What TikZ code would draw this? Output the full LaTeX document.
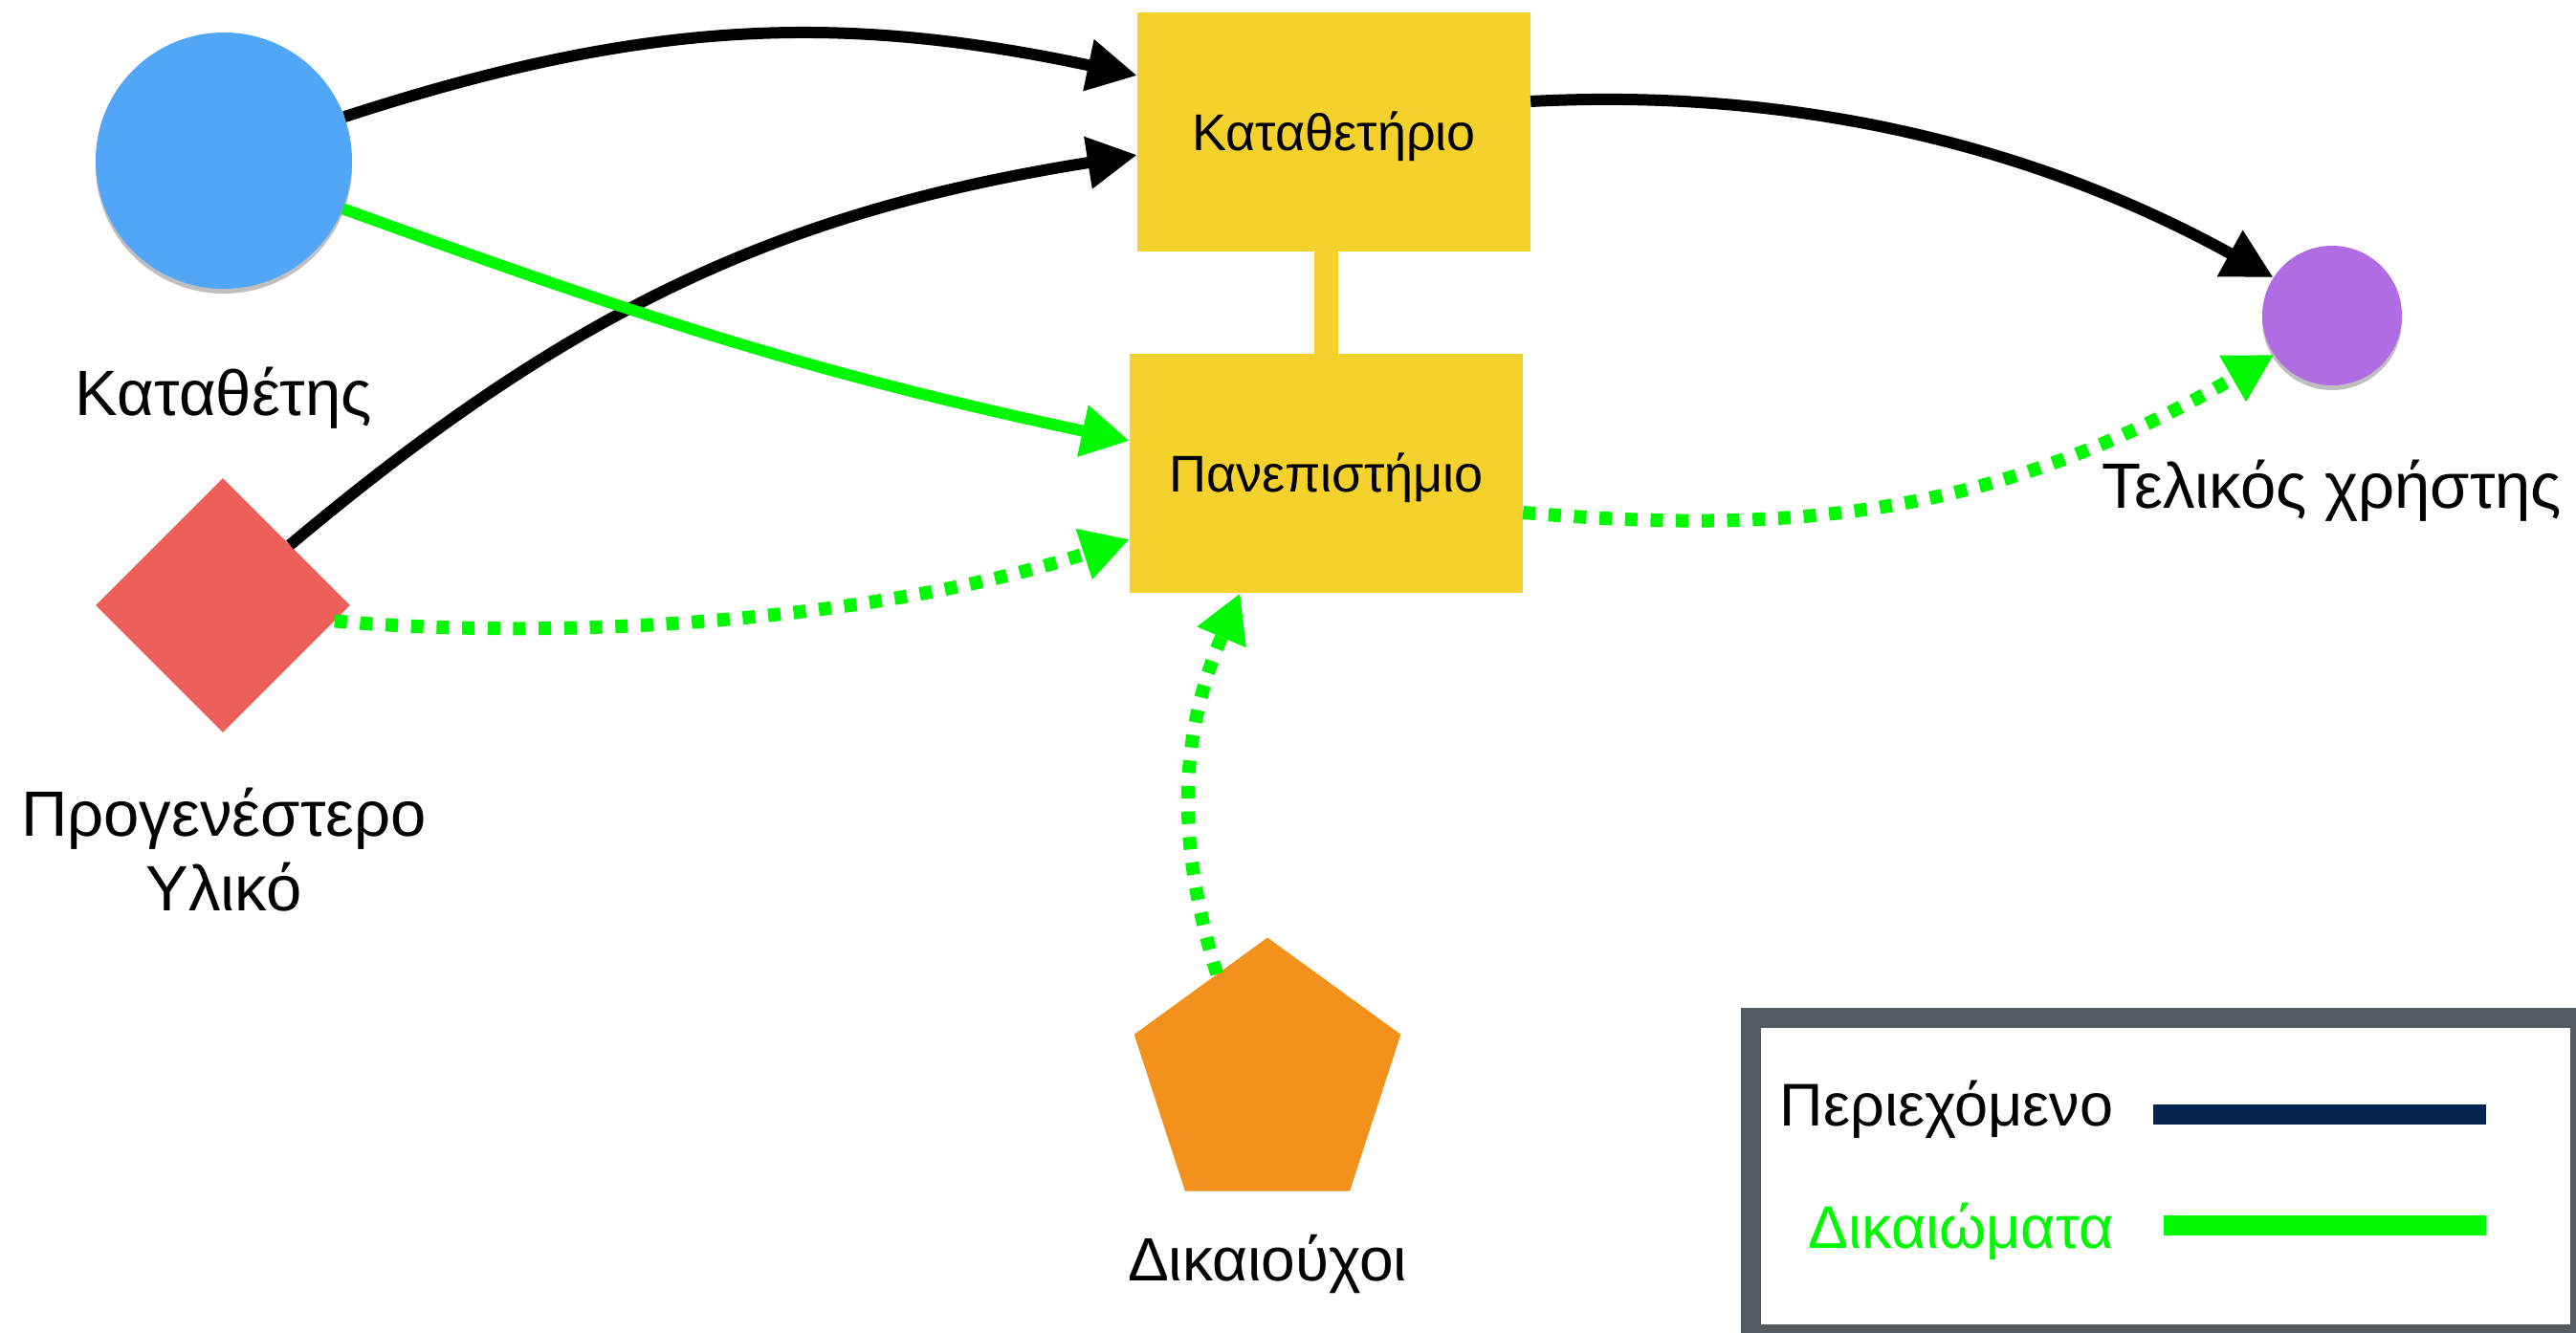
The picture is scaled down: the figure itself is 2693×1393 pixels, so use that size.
\documentclass[tikz,border=0pt]{standalone}
\usepackage{fontspec}
\setmainfont{Liberation Sans}
\usetikzlibrary{arrows.meta,shapes.geometric,shadows}
\definecolor{cblue}{HTML}{52A6F8}
\definecolor{cred}{HTML}{EC5E57}
\definecolor{cyel}{HTML}{F5D22B}
\definecolor{cpurple}{HTML}{B06CE2}
\definecolor{corange}{HTML}{F2921C}
\definecolor{cgreen}{HTML}{00F800}
\definecolor{cnavy}{HTML}{03244F}
\definecolor{cframe}{HTML}{555A61}
\tikzset{
  lbl/.style={inner sep=0pt, font=\fontsize{67}{78}\selectfont},
  boxlbl/.style={rectangle, fill=cyel, inner sep=0pt, minimum width=411pt, minimum height=250pt,
     font=\fontsize{54}{60}\selectfont, text height=38pt, text depth=0pt},
  legtxt/.style={inner sep=0pt, font=\fontsize{63}{70}\selectfont},
  blk/.style={draw=black, line width=12pt, -{Triangle[length=52pt,width=52pt]}},
  grn/.style={draw=cgreen, line width=12pt, -{Triangle[length=50pt,width=52pt]}},
  grndot/.style={draw=cgreen, line width=14pt, dash pattern=on 13pt off 13.7pt, -{Triangle[length=50pt,width=52pt]}},
  shad/.style={drop shadow={shadow xshift=0pt, shadow yshift=-5pt, opacity=0.25, fill=black}}
}
\begin{document}
\begin{tikzpicture}[x=1pt,y=1pt]
\useasboundingbox (0,0) rectangle (2693,-1393);
% shapes
\node[circle, fill=cblue, minimum size=268pt, inner sep=0pt, shad] (dep) at (234,-168) {};
\node[diamond, fill=cred, minimum width=266pt, minimum height=266pt, inner sep=0pt] (old) at (233,-633) {};
\node[boxlbl] (repo) at (1394.5,-138) {Καταθετήριο};
\node[boxlbl] (uni) at (1386.5,-495) {Πανεπιστήμιο};
\node[circle, fill=cpurple, minimum size=146pt, inner sep=0pt, shad] (user) at (2438,-330) {};
\node[regular polygon, regular polygon sides=5, fill=corange, minimum size=293pt, inner sep=0pt] (right) at (1325,-1127) {};
% labels
\node[lbl, anchor=base] (depl) at (234,-434) {Καταθέτης};
\node[lbl, align=center] (oldl) at (234,-889) {Προγενέστερο\\Υλικό};
\node[lbl, anchor=base] (userl) at (2438,-531) {Τελικός χρήστης};
\node[lbl, anchor=base, font=\fontsize{64}{78}\selectfont] (rightl) at (1325,-1339) {Δικαιούχοι};
% link between boxes
\draw[cyel, line width=25pt] (uni.north) -- (uni.north |- repo.south);
% connectors
\draw[blk] (dep.20) to[out=18,in=168] ([yshift=59]repo.west);
\draw[blk] (old.42) to[out=40,in=-171] ([yshift=-24]repo.west);
\draw[grn] (dep.-22) to[out=-20,in=168] ([yshift=34]uni.west);
\draw[grndot] (old.-8) to[out=-5,in=-162,looseness=0.8] ([yshift=-69]uni.west);
\draw[grndot] ([yshift=-41]uni.east) to[out=-5,in=-150] (user.214);
\draw[blk] ([yshift=32]repo.east) to[out=3,in=151,looseness=0.9] (user.147);
\draw[grndot] (right.116) to[out=107,in=-113] ([xshift=-90]uni.south);
% legend
\node[draw=cframe, line width=21pt, fill=white, minimum width=867pt, minimum height=331.5pt, inner sep=0pt] (legend) at (2264,-1229.75) {};
\node[legtxt, anchor=base] (lc) at (2035,-1177) {Περιεχόμενο};
\node[legtxt, anchor=base, text=cgreen] (lr) at (2050,-1305) {Δικαιώματα};
\coordinate (n1) at (2251,-1165);
\coordinate (n2) at (2599,-1165);
\coordinate (g1) at (2262,-1281);
\coordinate (g2) at (2599,-1281);
\draw[cnavy, line width=21pt] (n1) -- (n2);
\draw[cgreen, line width=21pt] (g1) -- (g2);
\end{tikzpicture}
\end{document}
